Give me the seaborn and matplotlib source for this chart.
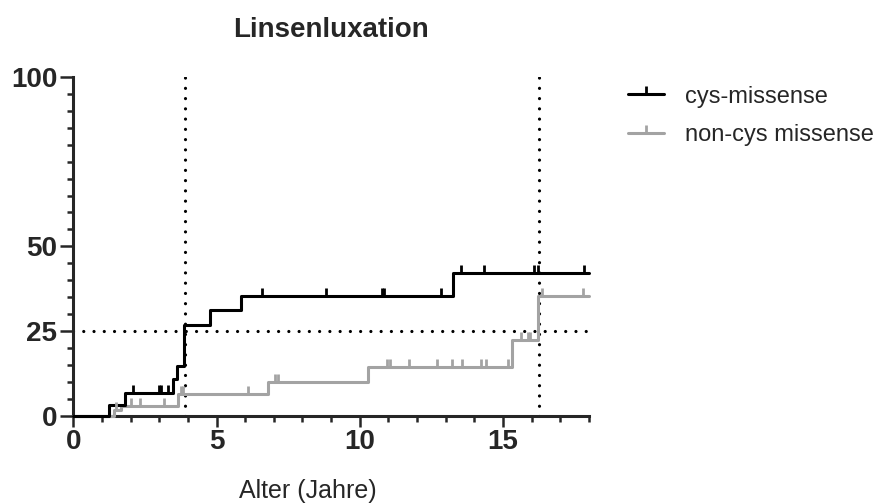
import numpy as np
import pandas as pd
import matplotlib
matplotlib.use("Agg")
import matplotlib.pyplot as plt
from matplotlib.lines import Line2D
from matplotlib.path import Path
from matplotlib.ticker import MultipleLocator, FixedLocator
import seaborn as sns

# Cumulative incidence of lens luxation (%), step curves
cys_time = [0.0, 1.25, 1.80, 3.48, 3.62, 3.86, 4.77, 5.85, 13.25, 18.0]
cys_value = [0.0, 3.3, 6.6, 10.7, 14.7, 26.9, 31.1, 35.2, 42.0, 42.0]
cys_censored = [2.09, 3.00, 3.06, 3.29, 6.57, 8.81, 10.76, 10.85, 12.85,
                13.55, 14.33, 16.08, 16.22, 17.82]

non_time = [0.0, 1.42, 1.66, 3.65, 6.80, 10.29, 15.33, 16.22, 18.0]
non_value = [0.0, 1.8, 2.95, 6.4, 10.0, 14.5, 22.3, 35.4, 35.4]
non_censored = [1.50, 2.00, 2.33, 3.18, 3.76, 3.82, 6.10, 7.04, 7.15,
                10.95, 11.05, 11.72, 12.70, 13.23, 13.58, 14.24, 14.42,
                15.17, 15.64, 15.87, 15.95, 16.37, 17.79]

groups = ["cys-missense", "non-cys missense"]
colors = {"cys-missense": "#000000", "non-cys missense": "#a3a3a3"}

quartile_level = 25
quartile_times = [3.9, 16.25]

x_ticks = [0, 5, 10, 15]
y_ticks = [0, 25, 50, 100]


def step_at(times, values, t):
    idx = np.searchsorted(times, t, side="right") - 1
    return np.asarray(values)[idx]


curves = pd.concat([
    pd.DataFrame({"Alter": cys_time, "Anteil": cys_value, "Gruppe": groups[0]}),
    pd.DataFrame({"Alter": non_time, "Anteil": non_value, "Gruppe": groups[1]}),
], ignore_index=True)

censor = pd.concat([
    pd.DataFrame({"Alter": cys_censored,
                  "Anteil": step_at(cys_time, cys_value, cys_censored),
                  "Gruppe": groups[0]}),
    pd.DataFrame({"Alter": non_censored,
                  "Anteil": step_at(non_time, non_value, non_censored),
                  "Gruppe": groups[1]}),
], ignore_index=True)

sns.set_style("ticks")
plt.rcParams["font.family"] = ["Liberation Sans", "DejaVu Sans"]

fig = plt.figure(figsize=(8.75, 5.04), dpi=100)
ax = fig.add_axes([0.0838, 0.1752, 0.5892, 0.672])

lw = 2.2
tick_mark = Path([(0, 0), (0, 1)], [Path.MOVETO, Path.LINETO])

# dotted reference lines
dots = (0, (0.01, 3.2))
ax.axhline(quartile_level, color="black", lw=2.3, linestyle=dots,
           dash_capstyle="round", zorder=1)
for t in quartile_times:
    ax.axvline(t, color="black", lw=2.3, linestyle=dots,
               dash_capstyle="round", zorder=1)

# draw grey first so the black curve sits on top
for g in groups[::-1]:
    sub = curves[curves["Gruppe"] == g]
    sns.lineplot(data=sub, x="Alter", y="Anteil", ax=ax, color=colors[g],
                 drawstyle="steps-post", estimator=None, sort=False,
                 linewidth=lw, clip_on=False, zorder=3, legend=False)
    csub = censor[censor["Gruppe"] == g]
    for x, y in zip(csub["Alter"], csub["Anteil"]):
        ax.plot([x], [y], marker=tick_mark, markersize=11,
                markeredgewidth=2.0, color=colors[g], linestyle="none",
                clip_on=False, zorder=4)

ax.set_xlim(0, 18)
ax.set_ylim(0, 100)
ax.xaxis.set_major_locator(FixedLocator(x_ticks))
ax.xaxis.set_minor_locator(MultipleLocator(1))
ax.yaxis.set_major_locator(FixedLocator(y_ticks))
ax.yaxis.set_minor_locator(MultipleLocator(5))

sns.despine(ax=ax)
for side in ["left", "bottom"]:
    ax.spines[side].set_linewidth(lw)
    ax.spines[side].set_capstyle("projecting")

ax.tick_params(which="major", direction="out", width=1.8, labelsize=20)
ax.tick_params(which="minor", direction="out", width=1.8, length=4.5)
ax.tick_params(axis="x", which="major", length=8, pad=1.5)
ax.tick_params(axis="y", which="major", length=9.5, pad=2)
for lab in ax.get_xticklabels() + ax.get_yticklabels():
    lab.set_fontweight("bold")

ax.set_xlabel("Alter (Jahre)", fontsize=18)
ax.xaxis.set_label_coords(0.455, -0.222)
ax.xaxis.label.set_verticalalignment("center")
ax.set_ylabel("")
ax.set_title("Linsenluxation", fontsize=20, fontweight="bold", pad=29)

handles = [Line2D([], [], color=colors[g], lw=lw, marker=tick_mark,
                  markersize=11, markeredgewidth=2.0) for g in groups]
fig.legend(handles, groups, loc="upper left", bbox_to_anchor=(0.693, 0.872),
           frameon=False, fontsize=17, numpoints=1, handlelength=1.55,
           handletextpad=0.9, labelspacing=0.68)

fig.savefig("out.png", dpi=100)
